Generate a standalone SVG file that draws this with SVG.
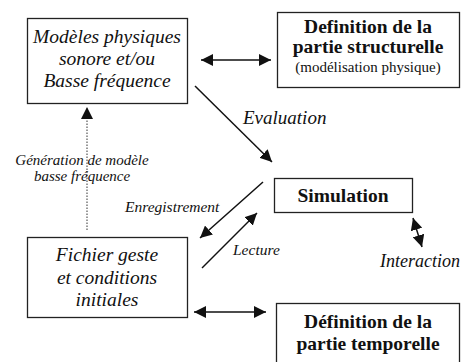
<svg xmlns="http://www.w3.org/2000/svg" width="467" height="362" viewBox="0 0 467 362">
<style>
svg text{font-family:'Liberation Serif','Times New Roman',serif !important;fill:#111}
.it{font-style:italic}
.bd{font-weight:bold}
.box{fill:#fff;stroke:#222;stroke-width:1.3}
.ln{stroke:#111;stroke-width:1.5;fill:none}
</style>
<defs>
<marker id="ahb" viewBox="0 0 10 10" refX="10" refY="5" markerWidth="12" markerHeight="12" markerUnits="userSpaceOnUse" orient="auto-start-reverse">
<path d="M0,0 L10,5 L0,10 Z" fill="#111"/>
</marker>
</defs>
<rect width="467" height="362" fill="#fff"/>
<g id="connectors">
<line class="ln" x1="201" y1="60" x2="271" y2="60" marker-start="url(#ahb)" marker-end="url(#ahb)"/>
<line class="ln" x1="195" y1="86" x2="272" y2="162" marker-end="url(#ahb)"/>
<line class="ln" x1="263" y1="182" x2="200" y2="238" marker-end="url(#ahb)"/>
<line class="ln" x1="202" y1="268" x2="257" y2="213" marker-end="url(#ahb)"/>
<line class="ln" x1="413" y1="218" x2="422" y2="247" marker-start="url(#ahb)" marker-end="url(#ahb)"/>
<line class="ln" x1="194" y1="312" x2="266" y2="312" marker-start="url(#ahb)" marker-end="url(#ahb)"/>
<line x1="87" y1="230" x2="87" y2="107" stroke="#333" stroke-width="1" stroke-dasharray="1.5,1.5" marker-end="url(#ahb)"/>
</g>
<g id="modeles">
<rect class="box" x="27.5" y="18.5" width="160" height="85"/>
<text class="it" style="font-family:'Liberation Serif',serif" font-size="19.5" text-anchor="middle" x="107" y="43">Modèles physiques</text>
<text class="it" style="font-family:'Liberation Serif',serif" font-size="19.5" text-anchor="middle" x="107" y="65">sonore et/ou</text>
<text class="it" style="font-family:'Liberation Serif',serif" font-size="19.5" text-anchor="middle" x="107" y="87">Basse fréquence</text>
</g>
<g id="structurelle">
<rect class="box" x="277.5" y="12.5" width="182" height="75"/>
<text class="bd" style="font-family:'Liberation Serif',serif" font-size="19.5" text-anchor="middle" x="368" y="33">Definition de la</text>
<text class="bd" style="font-family:'Liberation Serif',serif" font-size="19.5" text-anchor="middle" x="368" y="53">partie structurelle</text>
<text style="font-family:'Liberation Serif',serif" font-size="15" text-anchor="middle" x="368" y="72">(modélisation physique)</text>
</g>
<g id="simulation">
<rect class="box" x="274.5" y="178.5" width="138" height="34"/>
<text class="bd" style="font-family:'Liberation Serif',serif" font-size="19.5" text-anchor="middle" x="343" y="202">Simulation</text>
</g>
<g id="fichier">
<rect class="box" x="27.5" y="237.5" width="160" height="80"/>
<text class="it" style="font-family:'Liberation Serif',serif" font-size="19.5" text-anchor="middle" x="107" y="261">Fichier geste</text>
<text class="it" style="font-family:'Liberation Serif',serif" font-size="19.5" text-anchor="middle" x="107" y="284">et conditions</text>
<text class="it" style="font-family:'Liberation Serif',serif" font-size="19.5" text-anchor="middle" x="107" y="306">initiales</text>
</g>
<g id="temporelle">
<rect class="box" x="276.5" y="303.5" width="183" height="70"/>
<text class="bd" style="font-family:'Liberation Serif',serif" font-size="19.5" text-anchor="middle" x="368" y="328">Définition de la</text>
<text class="bd" style="font-family:'Liberation Serif',serif" font-size="19.5" text-anchor="middle" x="368" y="350">partie temporelle</text>
</g>
<g id="labels">
<text class="it" style="font-family:'Liberation Serif',serif" font-size="19" x="243" y="124">Evaluation</text>
<text class="it" style="font-family:'Liberation Serif',serif" font-size="15" text-anchor="middle" x="82" y="165">Génération de modèle</text>
<text class="it" style="font-family:'Liberation Serif',serif" font-size="15" text-anchor="middle" x="82" y="181">basse fréquence</text>
<text class="it" style="font-family:'Liberation Serif',serif" font-size="15.5" x="125" y="212">Enregistrement</text>
<text class="it" style="font-family:'Liberation Serif',serif" font-size="15.5" x="233" y="255">Lecture</text>
<text class="it" style="font-family:'Liberation Serif',serif" font-size="18" x="380" y="267">Interaction</text>
</g>
</svg>
